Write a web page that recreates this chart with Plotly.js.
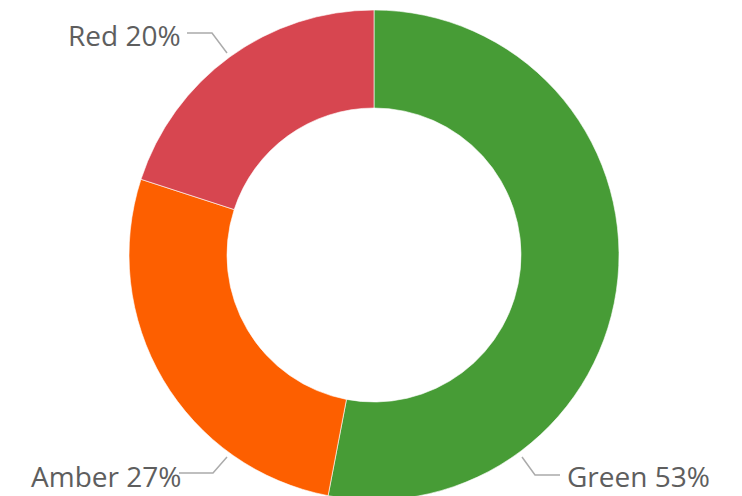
<!DOCTYPE html>
<html>
<head>
<meta charset="utf-8">
<script src="https://cdn.plot.ly/plotly-3.0.1.min.js"></script>
<style>
html,body{margin:0;padding:0;overflow:hidden;background:#fff;}
#chart{width:742px;height:500px;}
</style>
</head>
<body>
<div id="chart"></div>
<script>
const categories = ["Green", "Amber", "Red"];
const values = [53, 27, 20];
const colors = ["#479c36", "#fd5f00", "#d74650"];

const W = 742, H = 500, ML = 6, MT = 10, MR = 0, MB = 0;
const PW = W - ML - MR, PH = H - MT - MB;
const px = x => (x - ML) / PW;
const py = y => (H - MB - y) / PH;

// label placement (pixels) for leader lines and text
const labelLayout = [
  {pts: [[227,53],[212,33],[187,33]], tx: 182, ty: 35, anchor: "right", va: "middle"},
  {pts: [[227,457],[213,473],[179,473]], tx: 182, ty: 496, anchor: "right", va: "bottom"},
  {pts: [[522,457],[535,475],[560,475]], tx: 566, ty: 496, anchor: "left", va: "bottom"}
];
const order = {"Red":0, "Amber":1, "Green":2};

const annotations = [], shapes = [];
const total = values.reduce((a,b)=>a+b,0);
categories.forEach((c, i) => {
  const L = labelLayout[order[c]];
  const pct = Math.round(values[i] / total * 100);
  annotations.push({
    xref: "paper", yref: "paper", x: px(L.tx), y: py(L.ty),
    xanchor: L.anchor, yanchor: L.va, showarrow: false, borderpad: 0,
    text: c + " " + pct + "%",
    font: {family: "Open Sans, Noto Sans, sans-serif", size: 28, color: "#5e5e5e"}
  });
  shapes.push({
    type: "path", xref: "paper", yref: "paper",
    path: L.pts.map((p, k) => (k ? "L" : "M") + px(p[0]) + "," + py(p[1])).join(" "),
    line: {color: "#ababab", width: 1.5}
  });
});

Plotly.newPlot("chart", [{
  type: "pie",
  labels: categories,
  values: values,
  hole: 0.6,
  sort: false,
  direction: "clockwise",
  rotation: 0,
  textinfo: "none",
  marker: {colors: colors, line: {color: "#ffffff", width: 0.6}},
  showlegend: false
}], {
  width: W, height: H,
  margin: {l: ML, r: MR, t: MT, b: MB, pad: 0},
  paper_bgcolor: "#fff",
  annotations: annotations,
  shapes: shapes
}, {displayModeBar: false, staticPlot: true});
</script>
</body>
</html>
